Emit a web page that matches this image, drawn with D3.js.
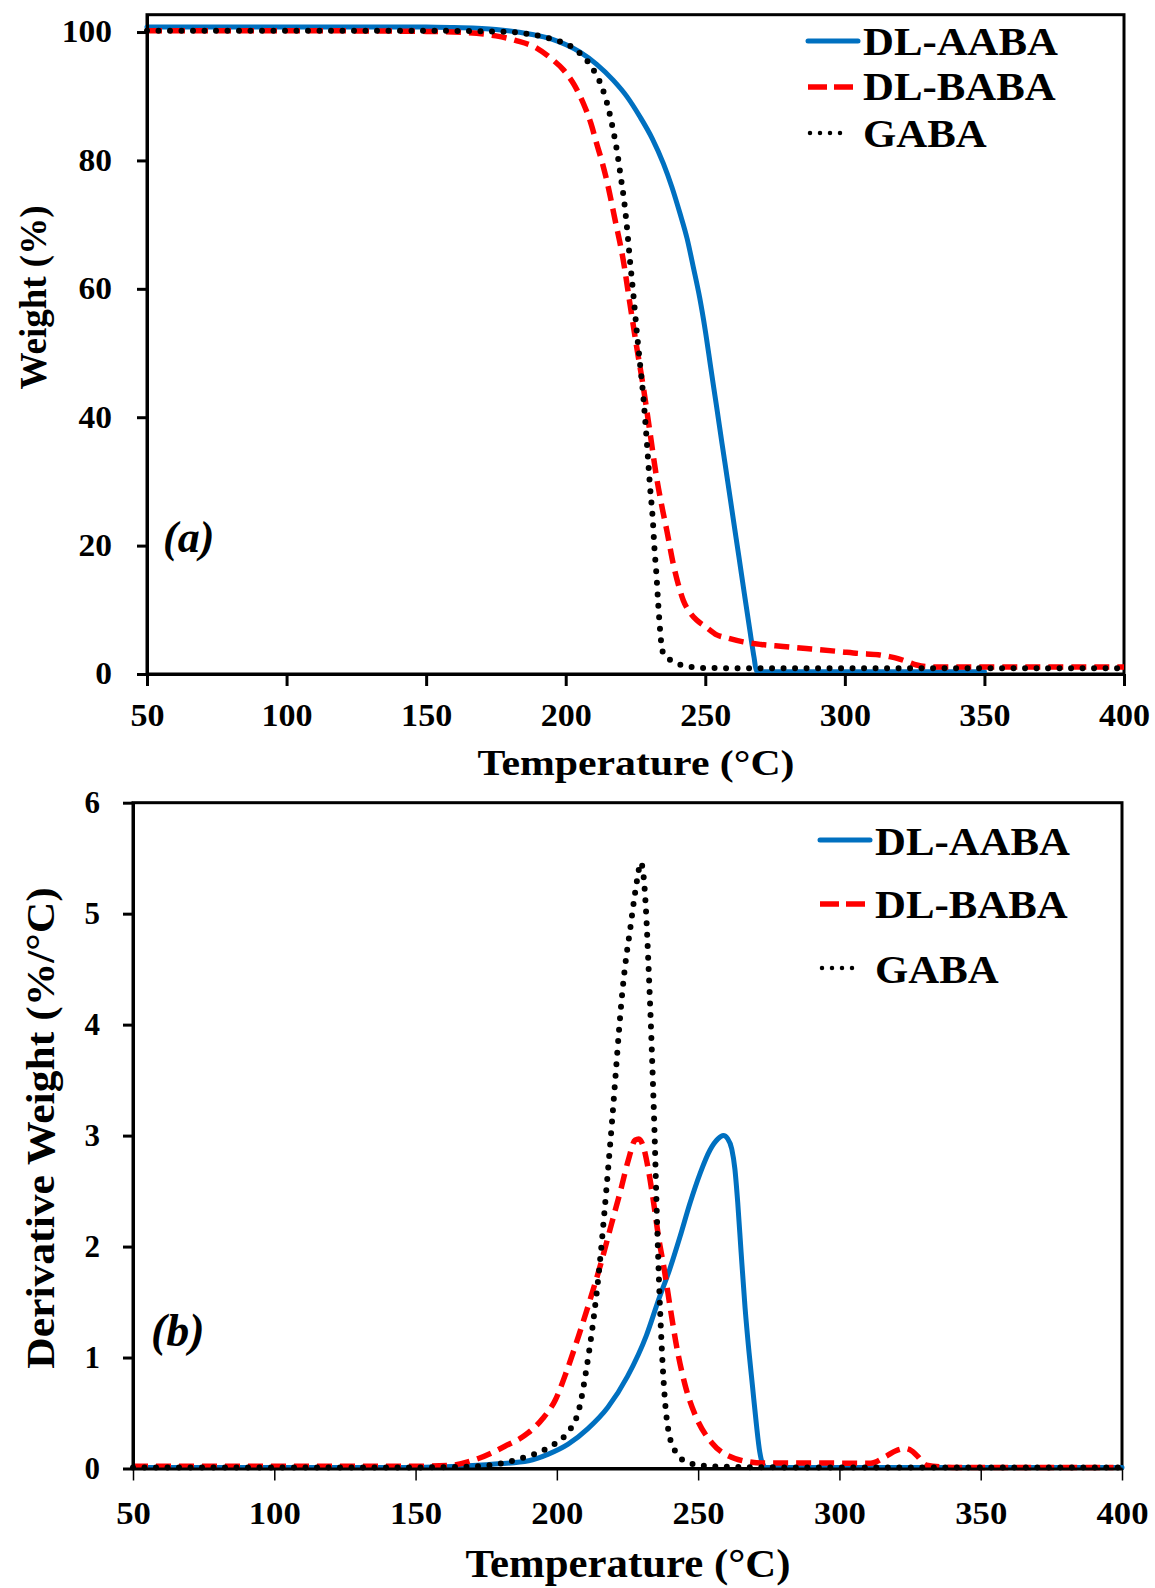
<!DOCTYPE html>
<html><head><meta charset="utf-8">
<script src="https://cdn.jsdelivr.net/npm/d3@7"></script>
<style>
body{margin:0;background:#fff}
svg text{font-family:"Liberation Serif","Times New Roman",serif;font-weight:bold;fill:#000}
</style>
</head><body>
<svg id="chart" width="1155" height="1588"></svg>
<script>
// ---------------- DATA ----------------
const seriesNames = ["DL-AABA", "DL-BABA", "GABA"];
const xTickValues = [50, 100, 150, 200, 250, 300, 350, 400];
const tgaTickValues = [0, 20, 40, 60, 80, 100];
const dtgTickValues = [0, 1, 2, 3, 4, 5, 6];
const xTitle = "Temperature (°C)";
const tgaTitle = "Weight (%)";
const dtgTitle = "Derivative Weight (%/°C)";
const panelLabels = ["(a)", "(b)"];

// (a) TGA : [temperature °C, weight %]
const tgaAABA = [[50,100.8],[100,100.8],[150,100.8],[160,100.7],[175,100.4],[187,99.7],[195,98.9],[205,96.9],[211,95.0],[217,92.5],[222,89.9],[226.6,86.8],[231,83.4],[235,79.5],[238,75.9],[240.9,71.8],[243.5,67.8],[245.7,63.4],[248,58.6],[250,53.5],[252,47.6],[254,41.8],[256,35.9],[258,30.1],[260,24.2],[262,18.4],[264,12.5],[266,6.7],[267.5,2.5],[268.3,0.5],[270,0.35],[300,0.35],[350,0.35]];
const tgaBABA = [[50,100.2],[100,100.2],[150,100.1],[165,99.9],[175,99.4],[182,98.7],[189.6,97.5],[195,95.8],[199.2,94.1],[203,91.8],[206.3,88.9],[209,85.8],[211.1,82.6],[213,79.8],[214.7,76.9],[217.7,70.7],[220.6,64.5],[223,57.7],[225.4,51.0],[227.8,44.7],[230,38.2],[232.6,30.5],[234.5,26],[236.2,22.4],[238.5,17.2],[240.3,14],[242.1,11.5],[244.5,9.6],[246.9,8.4],[250,7.4],[254.1,6.1],[258,5.6],[263.6,5.0],[270,4.6],[277.9,4.3],[288,3.9],[298,3.5],[305,3.2],[312,3.0],[316,2.7],[319,2.4],[322.5,1.9],[325.7,1.4],[329,1.15],[333,1.1],[360,1.1],[400,1.1]];
const tgaGABA = [[50,100.2],[100,100.2],[150,100.2],[180,100],[188,99.6],[194.3,99.0],[202.7,97.5],[208.7,94.9],[212.9,91.5],[215.3,88.1],[217,84.7],[218.5,81.1],[219.7,77.5],[220.9,73.8],[221.8,70.2],[223,64.5],[224.2,59.3],[225.4,53.6],[226.6,48.4],[227.8,43.2],[229,36.5],[230.2,29.2],[231.2,24],[231.8,19.5],[232.5,15.5],[233.2,10.5],[233.8,6.9],[234.4,4.2],[235.2,3.0],[237.4,2.2],[241.5,1.4],[249.3,0.95],[260,0.9],[300,0.9],[400,0.9]];

// (b) DTG : [temperature °C, derivative weight %/°C]
const dtgAABA = [[50,0.01],[100,0.01],[150,0.01],[165,0.02],[178,0.04],[190,0.07],[197,0.13],[204,0.22],[211,0.36],[218,0.55],[225,0.83],[231.7,1.2],[236,1.52],[240,1.8],[243.6,2.09],[247.1,2.39],[250.7,2.66],[254.2,2.87],[257,2.97],[258.9,3.0],[260.5,2.97],[261.9,2.88],[263,2.7],[264,2.4],[265.2,1.95],[266.6,1.45],[268,1.05],[269.2,0.75],[270.6,0.4],[271.8,0.15],[272.7,0.05],[274,0.01],[300,0.01],[350,0.01],[400,0.01]];
const dtgBABA = [[50,0.02],[100,0.02],[150,0.02],[162.8,0.03],[172.2,0.09],[181.6,0.2],[189.8,0.32],[195,0.45],[199.5,0.62],[203.5,0.88],[207.5,1.18],[211.5,1.5],[215.5,1.84],[219.3,2.2],[222.7,2.52],[225.3,2.78],[227.7,2.96],[229,2.97],[230.6,2.9],[232.4,2.69],[234.1,2.42],[235.9,2.1],[238.1,1.78],[240.3,1.42],[242.6,1.07],[245.4,0.75],[249.5,0.45],[254.9,0.23],[263.1,0.09],[272.7,0.05],[290,0.05],[311,0.047],[316.5,0.11],[320,0.16],[323.2,0.18],[325.5,0.16],[327.3,0.12],[330.8,0.03],[340,0.01],[370,0.01],[397,0.01]];
const dtgGABA = [[50,0.01],[100,0.01],[150,0.01],[172,0.02],[185.8,0.08],[197.8,0.2],[203,0.3],[207.8,0.53],[210.6,0.92],[213,1.35],[215,1.8],[216.8,2.3],[218.3,2.75],[219.6,3.15],[220.8,3.55],[222,3.95],[223.2,4.3],[224.5,4.6],[225.9,4.85],[227.2,5.1],[228.5,5.32],[229.7,5.46],[230.6,5.36],[231.5,5.05],[232.4,4.55],[233.2,4.05],[233.9,3.55],[234.6,3.0],[235.2,2.45],[235.8,1.95],[236.5,1.45],[237.3,1.0],[238.3,0.6],[239.8,0.3],[242.6,0.13],[246.7,0.05],[254.9,0.02],[280,0.01],[400,0.01]];

// ---------------- DRAWING ----------------
const svg = d3.select("#chart");
const styles = {
  "DL-AABA": {color:"#0070C0", width:5, dash:null, cap:"round", legendDash:null},
  "DL-BABA": {color:"#FF0000", width:5.5, dash:"15 8", cap:"butt", legendDash:"19 7"},
  "GABA":    {color:"#000000", width:6, dash:"0 11.5", cap:"round", legendDash:"0 10"}
};

function stretch(sel, k){
  sel.each(function(){
    const L = this.getComputedTextLength();
    d3.select(this).attr("textLength", L*k).attr("lengthAdjust","spacingAndGlyphs");
  });
}

function panel(cfg){
  const x = d3.scaleLinear().domain([50,400]).range([cfg.left, cfg.right]);
  const y = d3.scaleLinear().domain(cfg.yDomain).range([cfg.bottom, cfg.top]);
  const g = svg.append("g");

  g.append("rect").attr("x",cfg.left).attr("y",cfg.top)
    .attr("width",cfg.right-cfg.left).attr("height",cfg.bottom-cfg.top)
    .attr("fill","none").attr("stroke","#000").attr("stroke-width",3);

  const line = d3.line().x(d=>x(d[0])).y(d=>y(d[1])).curve(d3.curveMonotoneX);
  cfg.series.forEach((data,i)=>{
    const st = styles[seriesNames[i]];
    g.append("path").datum(data).attr("d",line)
      .attr("fill","none").attr("stroke",st.color).attr("stroke-width",st.width)
      .attr("stroke-linecap",st.cap).attr("stroke-linejoin","round")
      .attr("stroke-dasharray",st.dash);
  });

  const fmt = d3.format("d");
  const ya = g.append("g").attr("transform",`translate(${cfg.left},0)`)
    .call(d3.axisLeft(y).tickValues(cfg.yTicks).tickFormat(fmt).tickSize(10).tickSizeOuter(0).tickPadding(cfg.yPad));
  const xa = g.append("g").attr("transform",`translate(0,${cfg.bottom})`)
    .call(d3.axisBottom(x).tickValues(xTickValues).tickFormat(fmt).tickSize(12).tickSizeOuter(0).tickPadding(cfg.xPad));
  [ya,xa].forEach(a=>{
    a.attr("font-family",null).attr("font-size",null);
    a.select(".domain").attr("stroke","#000").attr("stroke-width",3);
    a.selectAll("text").style("font-size","31px");
  });
  ya.selectAll(".tick line").attr("stroke","#000").attr("stroke-width",3);
  xa.selectAll(".tick line").attr("stroke","#000").attr("stroke-width",cfg.xTickW);
  stretch(ya.selectAll("text"), cfg.yLabK);
  stretch(xa.selectAll("text"), cfg.xLabK);

  const xt = g.append("text").attr("x",cfg.xTitle[0]).attr("y",cfg.xTitle[1])
    .attr("text-anchor","middle").style("font-size",cfg.xTitle[2]+"px").text(xTitle);
  stretch(xt, cfg.xTitle[3]);
  const yt = g.append("text").attr("transform",`translate(${cfg.yTitle[0]},${cfg.yTitle[1]}) rotate(-90)`)
    .attr("text-anchor","middle").style("font-size",cfg.yTitle[2]+"px").text(cfg.yTitleText);
  stretch(yt, cfg.yTitle[3]);
  g.append("text").attr("x",cfg.label[0]).attr("y",cfg.label[1])
    .style("font-size",cfg.label[2]+"px").style("font-style","italic").text(cfg.labelText);

  seriesNames.forEach((name,i)=>{
    const st = styles[name];
    const ly = cfg.legend.lineY[i];
    g.append("line").attr("x1",cfg.legend.x1 + (name==="GABA"?2:0)).attr("x2",cfg.legend.x2 - (name==="GABA"?8:0))
      .attr("y1",ly).attr("y2",ly)
      .attr("stroke",st.color).attr("stroke-width",name==="GABA"?4.5:st.width)
      .attr("stroke-linecap",st.cap).attr("stroke-dasharray",st.legendDash);
    const t = g.append("text").attr("x",cfg.legend.tx).attr("y",cfg.legend.textY[i])
      .style("font-size","40px").text(name);
    stretch(t, 1.07);
  });
}

panel({
  left:147, right:1124, top:14.7, bottom:674, yDomain:[0,102.7], yTicks:tgaTickValues,
  yPad:25, xPad:18, xTickW:3, yLabK:1.08, xLabK:1.1,
  series:[tgaAABA, tgaBABA, tgaGABA],
  xTitle:[636,775,36,1.16], yTitle:[46,297.5,37,1.0], yTitleText:tgaTitle,
  label:[163,552,44], labelText:panelLabels[0],
  legend:{x1:808, x2:858, tx:863, lineY:[41,87,133], textY:[55,100,147]}
});

panel({
  left:133, right:1122, top:802.7, bottom:1468.5, yDomain:[0,6], yTicks:dtgTickValues,
  yPad:23, xPad:21, xTickW:1.5, yLabK:1.0, xLabK:1.12,
  series:[dtgAABA, dtgBABA, dtgGABA],
  xTitle:[628,1577,40,1.07], yTitle:[54,1128,40,1.09], yTitleText:dtgTitle,
  label:[151,1346,46], labelText:panelLabels[1],
  legend:{x1:820, x2:870, tx:875, lineY:[840,904,968], textY:[855,918,983]}
});
</script>
</body></html>
